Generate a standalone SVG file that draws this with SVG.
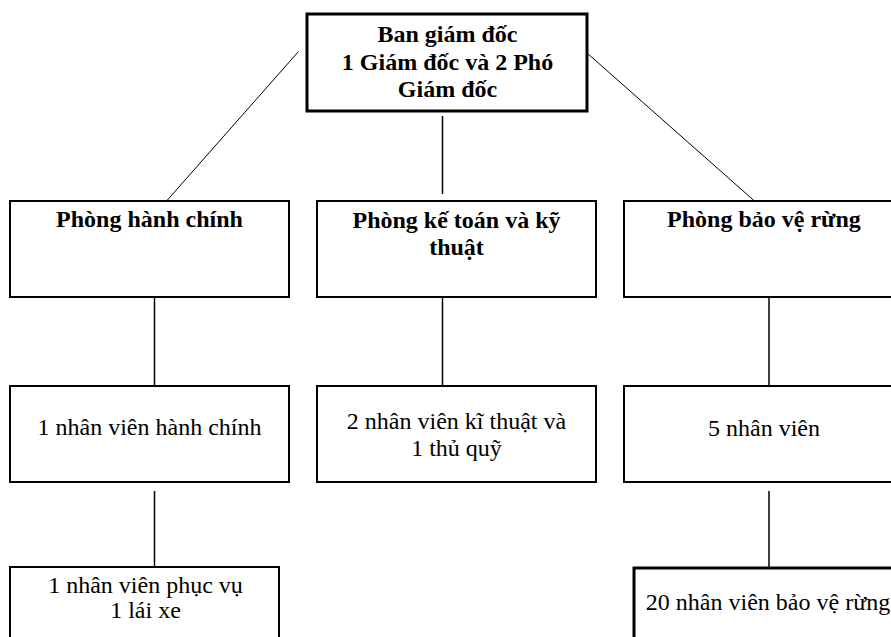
<svg xmlns="http://www.w3.org/2000/svg" width="891" height="637" viewBox="0 0 891 637">
<style>
.box{fill:#fff;stroke:#000;stroke-width:2}
.thick{stroke-width:3}
.b{font-family:"Liberation Serif","Times New Roman",serif;font-size:24px;font-weight:bold;text-anchor:middle;fill:#000}
.n{font-family:"Liberation Serif","Times New Roman",serif;font-size:24px;text-anchor:middle;fill:#000}
.c{stroke:#000;stroke-width:1.5;fill:none}
.d{stroke:#000;stroke-width:1;fill:none}
</style>
<rect width="891" height="637" fill="#fff"/>
<g id="connectors">
<line class="d" x1="298.5" y1="51.5" x2="163" y2="205"/>
<line class="d" x1="587" y1="53" x2="759" y2="205"/>
<line class="c" x1="442.5" y1="116" x2="442.5" y2="194"/>
<line class="c" x1="154.5" y1="297" x2="154.5" y2="395"/>
<line class="c" x1="442.5" y1="297" x2="442.5" y2="395"/>
<line class="c" x1="769" y1="297" x2="769" y2="395"/>
<line class="c" x1="154.5" y1="491" x2="154.5" y2="567"/>
<line class="c" x1="769" y1="491" x2="769" y2="568"/>
</g>
<g id="ban-giam-doc">
<rect class="box thick" x="307" y="14" width="280" height="97"/>
<text class="b" x="447.5" y="41.5">Ban giám đốc</text>
<text class="b" x="447.5" y="70">1 Giám đốc và 2 Phó</text>
<text class="b" x="447.5" y="97">Giám đốc</text>
</g>
<g id="phong-hanh-chinh">
<rect class="box" x="10" y="201" width="279" height="96"/>
<text class="b" x="149.5" y="227">Phòng hành chính</text>
</g>
<g id="phong-ke-toan">
<rect class="box" x="317" y="201" width="279" height="96"/>
<text class="b" x="456.5" y="228">Phòng kế toán và kỹ</text>
<text class="b" x="456.5" y="255">thuật</text>
</g>
<g id="phong-bao-ve">
<rect class="box" x="624" y="201" width="280" height="96"/>
<text class="b" x="764" y="227">Phòng bảo vệ rừng</text>
</g>
<g id="nv-hanh-chinh">
<rect class="box" x="10" y="386" width="279" height="96"/>
<text class="n" x="149.5" y="435">1 nhân viên hành chính</text>
</g>
<g id="nv-ki-thuat">
<rect class="box" x="317" y="386" width="279" height="96"/>
<text class="n" x="456.5" y="429">2 nhân viên kĩ thuật và</text>
<text class="n" x="456.5" y="456">1 thủ quỹ</text>
</g>
<g id="nv-bao-ve">
<rect class="box" x="624" y="386" width="280" height="96"/>
<text class="n" x="764" y="436">5 nhân viên</text>
</g>
<g id="nv-phuc-vu">
<rect class="box" x="10" y="567" width="269" height="100"/>
<text class="n" x="145.5" y="593">1 nhân viên phục vụ</text>
<text class="n" x="145.5" y="618">1 lái xe</text>
</g>
<g id="nv-bao-ve-rung">
<rect class="box thick" x="634" y="568" width="300" height="100"/>
<text class="n" x="768" y="610">20 nhân viên bảo vệ rừng</text>
</g>
</svg>
